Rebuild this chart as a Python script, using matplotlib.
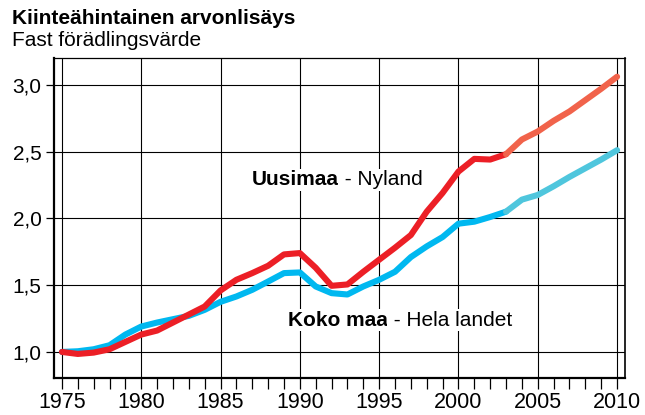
"""Line chart: fixed-price value added, Uusimaa vs whole country (index 1975 = 1,0)."""

import matplotlib

matplotlib.use("Agg")
import matplotlib.pyplot as plt
from matplotlib.ticker import FixedLocator, FuncFormatter, MultipleLocator

plt.rcParams["font.family"] = ["Liberation Sans", "DejaVu Sans"]

YEARS = list(range(1975, 2011))

UUSIMAA = [
    1.00, 0.985, 0.995, 1.02, 1.075, 1.13, 1.16, 1.22, 1.28, 1.34,
    1.46, 1.54, 1.59, 1.645, 1.73, 1.74, 1.63, 1.495, 1.505, 1.60,
    1.69, 1.78, 1.875, 2.05, 2.19, 2.35, 2.445, 2.44, 2.48, 2.59,
    2.65, 2.73, 2.80, 2.885, 2.97, 3.06,
]
KOKO_MAA = [
    1.00, 1.005, 1.02, 1.05, 1.13, 1.19, 1.22, 1.245, 1.27, 1.315,
    1.375, 1.415, 1.465, 1.527, 1.59, 1.595, 1.49, 1.44, 1.43, 1.49,
    1.54, 1.60, 1.71, 1.79, 1.86, 1.96, 1.975, 2.01, 2.05, 2.14,
    2.175, 2.24, 2.31, 2.375, 2.44, 2.51,
]
FORECAST_FROM = 2003

RED, RED_LIGHT = "#ec1f26", "#f1634b"
BLUE, BLUE_LIGHT = "#00b8f0", "#4fc6dd"


def plot_series(ax, values, color, light):
    split = YEARS.index(FORECAST_FROM)
    ax.plot(YEARS[: split + 1], values[: split + 1], color=color, lw=4.4,
            solid_capstyle="round", solid_joinstyle="round", zorder=3)
    ax.plot(YEARS[split:], values[split:], color=light, lw=4.4,
            solid_capstyle="round", solid_joinstyle="round", zorder=3)


def label(ax, x, y, bold, rest):
    box = dict(facecolor="white", edgecolor="none", pad=1)
    t = ax.text(x, y, bold, fontsize=15, fontweight="bold", va="center",
                transform=ax.transAxes, zorder=4, bbox=box)
    ax.annotate(rest, xy=(1, 0), xycoords=t, va="bottom", fontsize=15,
                zorder=4, bbox=box)


fig = plt.figure(figsize=(6.45, 4.15), dpi=100)
ax = fig.add_axes([0.0837, 0.0892, 0.8853, 0.771])

plot_series(ax, KOKO_MAA, BLUE, BLUE_LIGHT)
plot_series(ax, UUSIMAA, RED, RED_LIGHT)

ax.set_xlim(1974.5, 2010.5)
ax.set_ylim(0.805, 3.2)
ax.xaxis.set_major_locator(FixedLocator(range(1975, 2011, 5)))
ax.xaxis.set_minor_locator(MultipleLocator(1))
ax.yaxis.set_major_locator(FixedLocator([1.0, 1.5, 2.0, 2.5, 3.0]))
ax.yaxis.set_major_formatter(FuncFormatter(lambda v, _: f"{v:.1f}".replace(".", ",")))

ax.grid(True, which="major", color="black", lw=0.8)
ax.set_axisbelow(True)
ax.tick_params(axis="x", which="both", length=8, width=0.9, direction="out",
               labelsize=15.5, pad=2)
ax.tick_params(axis="y", which="major", length=6, width=0.9, direction="out",
               labelsize=15, pad=3)
for side, lw in (("left", 1.6), ("bottom", 1.6), ("top", 0.9), ("right", 1.2)):
    ax.spines[side].set_linewidth(lw)
    ax.spines[side].set_color("black")

label(ax, 0.347, 0.619, "Uusimaa", " - Nyland")
label(ax, 0.410, 0.181, "Koko maa", " - Hela landet")

fig.text(0.019, 0.942, "Kiinteähintainen arvonlisäys", fontsize=15,
         fontweight="bold", va="baseline")
fig.text(0.019, 0.889, "Fast förädlingsvärde", fontsize=15, va="baseline")

fig.savefig("out.png", dpi=100)
